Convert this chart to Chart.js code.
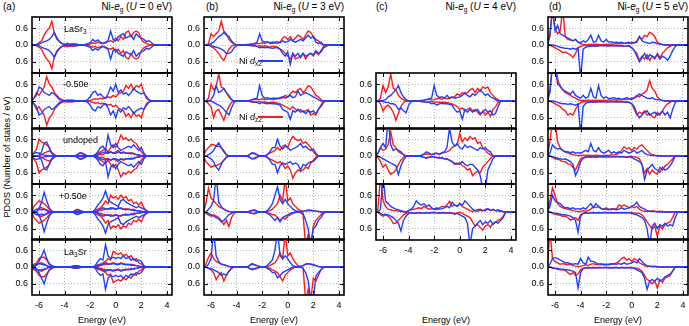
<!DOCTYPE html>
<html>
<head>
<meta charset="utf-8">
<script src="https://cdn.jsdelivr.net/npm/chart.js@4.4.0/dist/chart.umd.min.js"></script>
<style>
  body { margin: 0; width: 689px; height: 326px; position: relative; overflow: hidden; background: #fff;
         font-family: 'Liberation Sans', Arial, sans-serif; color: #000; }
  .t { position: absolute; white-space: nowrap; font-size: 9px; line-height: 12px; z-index: 5; }
  .t sub { font-size: 6.5px; vertical-align: -2px; line-height: 0; }
  .ttl { font-size: 10px; }
  .key { position: absolute; height: 1.5px; z-index: 5; }
  .ylab { position: absolute; left: 7px; top: 157px; transform: translate(-50%, -50%) rotate(-90deg); font-size: 9px; white-space: nowrap; }
</style>
</head>
<body>
<div class="t ttl" style="left:3px;top:1px">(a)</div>
<div class="t ttl" style="left:206px;top:1px">(b)</div>
<div class="t ttl" style="left:376px;top:1px">(c)</div>
<div class="t ttl" style="left:549px;top:1px">(d)</div>
<div class="t ttl" style="right:517px;top:1px">Ni-<i>e</i><sub>g</sub> (<i>U</i> = 0 eV)</div>
<div class="t ttl" style="right:345px;top:1px">Ni-<i>e</i><sub>g</sub> (<i>U</i> = 3 eV)</div>
<div class="t ttl" style="right:173px;top:1px">Ni-<i>e</i><sub>g</sub> (<i>U</i> = 4 eV)</div>
<div class="t ttl" style="right:1px;top:1px">Ni-<i>e</i><sub>g</sub> (<i>U</i> = 5 eV)</div>

<div class="t" style="left:64px;top:23px">LaSr<sub>3</sub></div>
<div class="t" style="left:63px;top:78px">-0.50e</div>
<div class="t" style="left:63px;top:134px">undoped</div>
<div class="t" style="left:59px;top:190px">+0.50e</div>
<div class="t" style="left:64px;top:246px">La<sub>3</sub>Sr</div>

<div class="t" style="left:239px;top:55px">Ni <i>d</i><sub>x2</sub></div>
<div class="key" style="left:258px;top:60px;width:25px;background:#1f3fff"></div>
<div class="t" style="left:239px;top:111px">Ni <i>d</i><sub>z2</sub></div>
<div class="key" style="left:258px;top:116px;width:25px;background:#ff1a1a"></div>

<div class="ylab">PDOS (Number of states / eV)</div>
<div class="t" style="left:102px;top:314px;transform:translateX(-50%)">Energy (eV)</div>
<div class="t" style="left:274px;top:314px;transform:translateX(-50%)">Energy (eV)</div>
<div class="t" style="left:446px;top:314px;transform:translateX(-50%)">Energy (eV)</div>
<div class="t" style="left:618px;top:314px;transform:translateX(-50%)">Energy (eV)</div>

<script>
// energy grid (eV)
const energy = [-6.6,-6.4,-6.2, -6,-5.8,-5.6,-5.4,-5.2, -5,-4.8,-4.6,-4.4,-4.2, -4,-3.8,-3.6,-3.4,-3.2, -3,-2.8,-2.6,-2.4,-2.2, -2,-1.8,-1.6,-1.4,-1.2, -1,-0.8,-0.6,-0.4,-0.2, 0,0.2,0.4,0.6,0.8, 1,1.2,1.4,1.6,1.8, 2,2.2,2.4,2.6,2.8, 3,3.2,3.4,3.6,3.8, 4,4.2,4.4,4.6];
const xTicks = [-6, -4, -2, 0, 2, 4];
const yTicks = [-0.6, 0, 0.6];

// (a) U = 0 eV, spin degenerate (drawn mirrored)
const a1Red  = [0,0,.02, .08,.15,.35,.5,.6, .85,.4,.2,.12,.05, .03,.06,.04,.05,.02, .02,0,0,0,.01, .04,.08,.05,.1,.06, .05,.08,.12,.15,.1, .25,.15,.3,.2,.45, .5,.3,.45,.5,.45, .2,.1,.05,.02,0, 0,0,0,0,0, 0,0,0,0];
const a1Blue = [0,0,0, .03,.08,.12,.15,.2, .3,.45,.25,.12,.05, .02,0,0,.02,.04, .02,0,0,.02,.05, .08,.2,.12,.18,.1, .05,.1,.15,.5,.2, .15,.3,.35,.4,.25, .3,.35,.2,.4,.3, .25,.2,.12,.15,.08, 0,0,0,0,0, 0,0,0,0];
const a2Red  = [0,.1,.3, .2,.35,.5,.87,.6, .5,.3,.2,.1,.05, .02,.04,.03,.02,0, 0,0,0,0,0, .02,.05,.08,.06,.1, .08,.1,.15,.12,.2, .15,.25,.3,.35,.55, .45,.6,.4,.55,.5, .6,.3,.1,.03,0, 0,0,0,0,0, 0,0,0,0];
const a2Blue = [0,.1,.2, .5,.45,.3,.25,.2, .3,.25,.15,.05,.02, 0,0,.02,.03,.02, 0,0,0,0,.05, .15,.3,.35,.2,.25, .15,.1,.25,.5,.35, .6,.3,.4,.25,.3, .2,.3,.45,.35,.3, .25,.3,.15,.05,0, 0,0,0,0,0, 0,0,0,0];
const a3Red  = [0,.1,.25, .6,.5,.45,.4,.3, .1,.02,0,0,0, 0,0,0,0,0, .05,.1,.08,.03,0, 0,0,.05,.1,.15, .2,.25,.15,.3,.4, .3,.5,.75,.6,.65, .55,.6,.5,.45,.3, .15,.05,0,0,0, 0,0,0,0,0, 0,0,0,0];
const a3Blue = [0,0,0, .02,.15,.45,.5,.3, .1,.02,0,0,0, 0,0,0,0,0, .05,.12,.1,.05,0, 0,0,.05,.15,.3, .35,.2,.75,.4,.3, .45,.3,.2,.25,.3, .35,.3,.4,.3,.2, .3,.1,0,0,0, 0,0,0,0,0, 0,0,0,0];
const a3RedIn  = [0,0,0, 0,.05,.1,.15,.18, .12,.05,0,0,0, 0,0,0,0,0, 0,0,0,0,0, 0,0,0,.03,.05, .05,.1,.1,.15,.1, .15,.2,.1,.15,.1, .1,.12,.08,.05,.02, 0,0,0,0,0, 0,0,0,0,0, 0,0,0,0];
const a3BlueIn = [0,.1,.12, .1,.06,.03,.02,0, 0,0,0,0,0, 0,0,0,0,0, 0,0,0,0,0, 0,0,0,.05,.1, .12,.15,.1,.15,.1, .1,.15,.1,.12,.1, .1,.08,.1,.05,.05, .02,0,0,0,0, 0,0,0,0,0, 0,0,0,0];
const a4Red  = [0,.2,.3, .4,.35,.3,.2,.1, .03,0,0,0,0, 0,0,0,0,.03, .08,.05,.02,0,0, 0,0,.05,.1,.15, .25,.4,.3,.6,.5, .55,.45,.6,.5,.55, .4,.45,.3,.35,.25, .35,.15,.05,0,0, 0,0,0,0,0, 0,0,0,0];
const a4Blue = [0,0,.02, .1,.35,.7,.4,.15, .03,0,0,0,0, 0,0,0,0,.05, .1,.06,.02,0,0, 0,0,.1,.25,.35, .5,.75,.45,.35,.3, .25,.2,.4,.45,.35, .3,.25,.2,.15,.2, .15,.1,.05,0,0, 0,0,0,0,0, 0,0,0,0];
const a4RedIn  = [0,0,0, .15,.15,.12,.08,.03, 0,0,0,0,0, 0,0,0,0,0, 0,0,0,0,0, 0,0,0,.03,.05, .08,.1,.12,.1,.15, .1,.12,.15,.1,.12, .1,.08,.1,.05,.05, .03,0,0,0,0, 0,0,0,0,0, 0,0,0,0];
const a4BlueIn = [0,.05,.1, .1,.08,.1,.05,0, 0,0,0,0,0, 0,0,0,0,0, 0,0,0,0,0, 0,0,0,.05,.1, .15,.12,.1,.15,.12, .1,.15,.12,.1,.08, .1,.08,.05,.05,.03, 0,0,0,0,0, 0,0,0,0,0, 0,0,0,0];
const a5Red  = [0,.1,.15, .3,.35,.35,.25,.12, .05,.02,0,0,0, 0,0,0,.03,.05, .05,.02,0,0,0, 0,0,.02,.08,.1, .15,.2,.3,.25,.55, .5,.45,.5,.4,.45, .35,.4,.25,.3,.15, .1,.02,0,0,0, 0,0,0,0,0, 0,0,0,0];
const a5Blue = [0,0,.05, .2,.4,.6,.3,.1, .03,0,0,0,0, 0,0,0,.02,.05, .04,.02,0,0,0, 0,0,.05,.2,.3, .25,.8,.4,.3,.35, .3,.35,.3,.4,.3, .35,.25,.3,.2,.25, .2,.05,0,0,0, 0,0,0,0,0, 0,0,0,0];
const a5RedIn  = [0,.05,.08, .12,.15,.1,.05,.02, 0,0,0,0,0, 0,0,0,0,0, 0,0,0,0,0, 0,0,0,.02,.05, .08,.1,.1,.12,.15, .12,.1,.15,.12,.1, .08,.1,.05,.05,.03, 0,0,0,0,0, 0,0,0,0,0, 0,0,0,0];
const a5BlueIn = [0,.05,.1, .12,.1,.08,.05,0, 0,0,0,0,0, 0,0,0,0,0, 0,0,0,0,0, 0,0,0,.05,.08, .1,.15,.12,.1,.12, .1,.08,.12,.1,.08, .1,.05,.08,.05,.03, 0,0,0,0,0, 0,0,0,0,0, 0,0,0,0];

// (b) U = 3 eV
const b1RedUp  = [0,0,.05, .4,.3,.4,.5,.85, .5,.4,.2,.1,.03, 0,0,0,0,.02, .02,.05,.03,.05,.05, .08,.05,.1,.06,.05, .08,.05,.1,.25,.3, .2,.3,.15,.25,.35, .3,.2,.35,.5,.45, .3,.2,.15,.05,0, 0,0,0,0,0, 0,0,0,0];
const b1RedDn  = [0,0,0, -.05,-.1,-.2,-.3,-.45, -.55,-.35,-.15,-.05,0, 0,0,0,0,0, -.02,-.03,-.02,-.05,-.03, -.05,-.03,-.05,-.08,-.05, -.05,-.1,-.15,-.2,-.3, -.4,-.5,-.3,-.5,-.45, -.4,-.3,-.5,-.35,-.3, -.4,-.25,-.35,-.2,-.05, 0,0,0,0,0, 0,0,0,0];
const b1BlueUp = [0,0,0, .05,.1,.2,.3,.35, .45,.35,.3,.15,.05, 0,0,0,0,0, .02,.03,.05,.1,.4, .15,.1,.12,.08,.1, .1,.12,.08,.15,.1, .12,.2,.15,.1,.15, .2,.15,.25,.35,.25, .3,.1,.05,.1,0, 0,0,0,0,0, 0,0,0,0];
const b1BlueDn = [0,0,0, -.02,-.05,-.08,-.1,-.15, -.2,-.3,-.3,-.25,-.1, -.02,0,0,0,0, 0,-.02,-.03,-.05,-.1, -.08,-.1,-.08,-.1,-.12, -.1,-.08,-.15,-.3,-.4, -.25,-.69,-.3,-.4,-.3, -.45,-.3,-.4,-.35,-.3, -.35,-.2,-.3,-.25,-.1, -.05,0,0,0,0, 0,0,0,0];
const b2RedUp  = [0,0,.1, .6,.4,.5,.97,.5, .45,.3,.15,.05,0, 0,0,0,0,0, .02,.04,.05,.06,.05, .08,.05,.06,.08,.05, .06,.1,.08,.12,.2, .15,.25,.35,.3,.4, .45,.3,.4,.55,.5, .35,.2,.15,.05,0, 0,0,0,0,0, 0,0,0,0];
const b2RedDn  = [0,0,-.1, -.2,-.6,-.35,-.3,-.5, -.69,-.4,-.2,-.05,0, 0,0,0,0,0, -.02,-.04,-.05,-.03,-.02, -.05,-.03,-.06,-.05,-.04, -.05,-.08,-.1,-.15,-.2, -.25,-.3,-.2,-.3,-.35, -.3,-.4,-.35,-.3,-.5, -.45,-.5,-.3,-.15,0, 0,0,0,0,0, 0,0,0,0];
const b2BlueUp = [0,0,0, .05,.2,.55,.3,.35, .45,.3,.2,.05,0, 0,0,0,0,0, .02,.05,.08,.1,.55, .2,.1,.12,.08,.1, .1,.08,.12,.15,.1, .15,.2,.12,.15,.35, .2,.25,.3,.25,.2, .15,.1,.05,0,0, 0,0,0,0,0, 0,0,0,0];
const b2BlueDn = [0,0,0, 0,-.05,-.1,-.15,-.2, -.3,-.4,-.5,-.25,-.05, 0,0,0,0,0, 0,-.02,-.03,-.05,-.1, -.05,-.08,-.1,-.08,-.1, -.1,-.12,-.15,-.3,-.35, -.4,-.65,-.35,-.4,-.3, -.4,-.35,-.45,-.35,-.4, -.35,-.45,-.3,-.2,-.05, 0,0,0,0,0, 0,0,0,0];
const b3RedUp  = [0,.2,.3, .4,.4,.35,.35,.3, .2,.05,0,0,0, 0,0,0,0,0, .05,.1,.08,.04,0, 0,0,.05,.1,.15, .2,.3,.2,.35,.4, .3,.55,.7,.6,.55, .6,.45,.5,.4,.3, .15,.05,0,0,0, 0,0,0,0,0, 0,0,0,0];
const b3RedDn  = [0,-.2,-.3, -.4,-.35,-.35,-.3,-.25, -.15,-.05,0,0,0, 0,0,0,0,0, -.05,-.1,-.07,-.03,0, 0,0,-.05,-.1,-.15, -.2,-.25,-.2,-.3,-.45, -.35,-.5,-.8,-.6,-.5, -.55,-.5,-.4,-.45,-.25, -.15,-.05,0,0,0, 0,0,0,0,0, 0,0,0,0];
const b3BlueUp = [0,0,.05, .1,.2,.35,.47,.3, .15,.05,0,0,0, 0,0,0,0,0, .04,.12,.1,.05,0, 0,0,.05,.15,.3, .3,.6,.35,.25,.35, .3,.2,.25,.3,.35, .45,.3,.35,.25,.2, .25,.1,0,0,0, 0,0,0,0,0, 0,0,0,0];
const b3BlueDn = [0,0,-.05, -.1,-.2,-.4,-.5,-.3, -.15,-.05,0,0,0, 0,0,0,0,0, -.04,-.1,-.1,-.05,0, 0,0,-.05,-.15,-.3, -.3,-.6,-.35,-.25,-.3, -.25,-.2,-.3,-.25,-.3, -.5,-.3,-.35,-.25,-.2, -.2,-.1,0,0,0, 0,0,0,0,0, 0,0,0,0];
const b4RedUp  = [0,.3,.85, .5,.4,.3,.2,.15, .1,.05,.02,0,0, 0,0,0,0,0, .03,.06,.04,.02,0, 0,0,.02,.05,.1, .2,.3,.6,.4,1.2, .4,.5,.3,.2,.1, .05,.02,.05,.08,.05, .04,.03,.02,0,0, 0,0,0,0,0, 0,0,0,0];
const b4RedDn  = [0,-.05,-.1, -.15,-.1,-.15,-.2,-.3, -.45,-.3,-.52,-.2,-.05, 0,0,0,0,0, -.02,-.05,-.04,-.02,0, 0,0,-.02,-.05,-.1, -.1,-.2,-.3,-.2,-.25, -.15,-.1,-.05,-.02,0, -.02,-.1,-1.2,-.8,-1.2, -.5,-.3,-.2,-.1,0, 0,0,0,0,0, 0,0,0,0];
const b4BlueUp = [0,0,.1, .2,.4,1.3,.35,.2, .1,.05,.02,0,0, 0,0,0,0,0, .02,.05,.08,.03,0, 0,0,.05,.15,.3, .6,.9,.45,.3,.45, .3,.2,.1,.05,.02, .02,.03,.05,.04,.06, .05,.03,.02,0,0, 0,0,0,0,0, 0,0,0,0];
const b4BlueDn = [0,0,-.05, -.1,-.15,-.2,-.25,-.35, -.3,-.2,-.1,-.05,0, 0,0,0,0,0, -.02,-.05,-.06,-.02,0, 0,0,-.05,-.1,-.2, -.3,-.2,-.35,-.2,-.15, -.1,-.05,-.02,0,0, 0,-.05,-.3,-.6,-1.2, -.6,-.5,-.3,-.2,-.05, 0,0,0,0,0, 0,0,0,0];
const b5RedUp  = [0,.1,.35, .5,.3,.2,.15,.1, .08,.05,.02,0,0, 0,0,0,0,0, .05,.1,.08,.05,.02, 0,0,.02,.05,.1, .15,.3,.5,.3,1.2, .4,.5,.3,.15,.05, .02,.05,.1,.12,.1, .08,.05,.02,0,0, 0,0,0,0,0, 0,0,0,0];
const b5RedDn  = [0,0,-.05, -.1,-.2,-.45,-.3,-.2, -.5,-.3,-.15,-.05,0, 0,0,0,0,0, -.05,-.1,-.08,-.05,-.02, 0,0,-.02,-.05,-.1, -.15,-.2,-.35,-.5,-.3, -.2,-.1,-.05,0,0, 0,-.05,-1.2,-.8,-1.2, -.4,-.5,-.3,-.1,0, 0,0,0,0,0, 0,0,0,0];
const b5BlueUp = [0,0,.1, .3,1.3,.4,.2,.1, .08,.05,.02,0,0, 0,0,0,0,0, .05,.12,.08,.05,.02, 0,0,.05,.15,.25, .6,1.3,.4,.3,.4, .3,.15,.05,.02,0, .02,.05,.1,.12,.1, .08,.05,.02,0,0, 0,0,0,0,0, 0,0,0,0];
const b5BlueDn = [0,0,-.05, -.05,-.1,-.15,-.2,-.3, -.25,-.3,-.15,-.05,0, 0,0,0,0,0, -.05,-.08,-.06,-.03,0, 0,0,-.05,-.1,-.2, -.2,-.39,-.3,-.2,-.15, -.1,-.05,0,0,0, 0,-.05,-.2,-.5,-1.2, -1.2,-.33,-.2,-.1,-.02, 0,0,0,0,0, 0,0,0,0];

// (c) U = 4 eV (three cases)
const c1RedUp  = [0,0,.1, .55,.3,.5,.97,.45, .4,.2,.1,.05,0, 0,0,0,0,0, .02,.03,.05,.05,.04, .05,.08,.1,.06,.1, .08,.1,.12,.15,.25, .2,.3,.25,.3,.4, .45,.3,.45,.35,.5, .45,.5,.3,.2,.1, .05,0,0,0,0, 0,0,0,0];
const c1RedDn  = [0,0,-.1, -.36,-.2,-.15,-.25,-.4, -.69,-.45,-.2,-.05,0, 0,0,0,0,0, -.02,-.03,-.04,-.03,-.02, -.04,-.03,-.05,-.04,-.05, -.05,-.08,-.1,-.15,-.2, -.3,-.25,-.35,-.3,-.25, -.35,-.3,-.4,-.5,-.35, -.5,-.4,-.55,-.3,-.2, -.05,0,0,0,0, 0,0,0,0];
const c1BlueUp = [0,0,0, .02,.05,.15,.2,.3, .4,.55,.3,.15,.05, 0,0,0,0,0, .02,.03,.05,.08,.1, .55,.2,.12,.15,.1, .2,.1,.15,.1,.12, .15,.2,.3,.2,.15, .25,.2,.3,.4,.3, .2,.25,.15,.1,.05, 0,0,0,0,0, 0,0,0,0];
const c1BlueDn = [0,0,0, -.02,-.05,-.05,-.1,-.1, -.15,-.3,-.25,-.35,-.42, -.15,-.02,0,0,0, -.02,-.03,-.05,-.05,-.1, -.08,-.15,-.1,-.08,-.1, -.1,-.12,-.15,-.3,-.4, -.35,-.65,-.3,-.4,-.3, -.4,-.35,-.3,-.45,-.4, -.3,-.4,-.35,-.5,-.45, -.2,0,0,0,0, 0,0,0,0];
const c2RedUp  = [0,.1,.3, .2,.25,.4,.87,.4, .3,.15,.1,.05,0, 0,0,0,0,0, .02,.05,.08,.06,.05, .08,.1,.06,.1,.12, .15,.2,.3,.35,.4, .81,.5,.65,.55,.7, .6,.65,.45,.5,.3, .2,.1,.05,0,0, 0,0,0,0,0, 0,0,0,0];
const c2RedDn  = [0,-.05,-.2, -.4,-.3,-.5,-.65,-.6, -.5,-.3,-.15,-.05,0, 0,0,0,0,0, -.02,-.05,-.06,-.04,-.02, -.04,-.06,-.05,-.08,-.1, -.1,-.15,-.2,-.25,-.3, -.25,-.35,-.4,-.5,-.45, -.7,-.6,-.55,-.6,-.4, -.3,-.2,-.1,0,0, 0,0,0,0,0, 0,0,0,0];
const c2BlueUp = [0,.1,.3, .45,.3,1.3,.4,.2, .25,.2,.15,.05,0, 0,0,0,0,0, .03,.08,.15,.1,.05, .08,.1,.05,.12,.15, .3,1.0,.5,.35,.45, .3,.25,.4,.3,.35, .3,.25,.2,.3,.25, .3,.2,.15,0,0, 0,0,0,0,0, 0,0,0,0];
const c2BlueDn = [0,0,-.05, -.1,-.15,-.2,-.25,-.3, -.35,-.66,-.35,-.15,-.02, 0,0,0,0,0, -.02,-.05,-.08,-.05,-.02, -.03,-.05,-.08,-.05,-.1, -.12,-.15,-.2,-.3,-.25, -.3,-.2,-.3,-.35,-.3, -.3,-.4,-.5,-.7,-1.2, -1.2,-.5,-.3,-.1,0, 0,0,0,0,0, 0,0,0,0];
const c3RedUp  = [0,.1,1.3, .4,.2,.1,.08,.05, .05,.03,.02,0,0, .05,.08,.1,.12,.15, .12,.2,.15,.1,.12, .1,.08,.15,.2,.18, .25,.38,.2,.25,.2, .3,.2,.15,.1,.05, .02,.05,.03,.06,.04, .05,.1,.05,.08,.04, .03,.02,0,0,0, 0,0,0,0];
const c3RedDn  = [0,0,-.1, -.15,-.1,-.15,-.25,-.41, -.4,-.3,-.2,-.1,-.05, -.02,-.03,-.05,-.02,-.03, -.05,-.03,-.02,-.05,-.03, -.02,-.03,-.02,-.03,-.02, -.03,-.02,-.03,-.05,-.03, -.02,-.05,-.1,-.15,-.2, -.35,-.5,-.45,-.55,-.65, -.5,-.45,-.55,-.4,-.35, -.3,-.25,-.15,0,0, 0,0,0,0];
const c3BlueUp = [0,0,.1, 1.3,.38,.3,.2,.15, .1,.08,.05,.02,0, .05,.1,.2,.4,.3, .25,.3,.2,.25,.15, .1,.15,.1,.12,.15, .2,.15,.35,.25,.2, .3,.25,.4,.3,.2, .1,.05,.08,.1,.05, .08,.12,.06,.1,.05, .08,.05,.02,0,0, 0,0,0,0];
const c3BlueDn = [0,0,-.05, -.1,-.08,-.1,-.15,-.2, -.3,-.4,-.68,-.3,-.15, -.05,-.02,-.03,-.05,-.02, -.03,-.05,-.02,-.03,-.02, -.02,-.03,-.05,-.02,-.03, -.05,-.03,-.05,-.08,-.05, -.1,-.15,-.2,-.4,-1.2, -.6,-.5,-.4,-.3,-.45, -.35,-.4,-.3,-.45,-.35, -.4,-.3,-.2,0,0, 0,0,0,0];

// (d) U = 5 eV
const d1RedUp  = [0,.3,1.3, .6,.4,.5,1.3,.3, .2,.18,.15,.2,.1, .05,.02,0,.02,.03, .02,.03,.02,.01,.02, .03,.02,.04,.03,.05, .04,.06,.05,.08,.06, .1,.08,.15,.3,.2, .35,.3,.46,.4,.3, .1,.05,.02,0,0, 0,0,0,0,0, 0,0,0,0];
const d1RedDn  = [0,0,-.05, -.1,-.15,-.2,-.27,-.25, -.3,-.35,-.45,-.3,-.1, -.05,-.02,0,0,-.02, -.02,-.03,-.02,0,-.02, -.02,-.03,-.02,-.02,-.03, -.02,-.03,-.05,-.03,-.05, -.1,-.2,-.3,-.55,-.4, -.5,-.35,-.55,-.4,-.5, -.3,-.45,-.3,-.2,-.1, -.05,0,0,0,0, 0,0,0,0];
const d1BlueUp = [0,.4,1.3, .5,.7,.4,.35,.3, .25,.2,.15,.2,.1, .08,.15,.1,.2,.35, .1,.12,.35,.15,.1, .2,.1,.12,.08,.1, .08,.1,.06,.08,.1, .05,.08,.1,.3,.15, .1,.08,.05,.1,.08, .05,.03,.02,0,0, 0,0,0,0,0, 0,0,0,0];
const d1BlueDn = [0,0,0, -.02,-.05,-.08,-.1,-.12, -.12,-.15,-.12,-.15,-.1, -1.2,-.15,-.08,-.05,-.05, -.03,-.05,-.03,-.02,-.03, -.02,-.03,-.02,-.03,-.02, -.03,-.02,-.05,-.03,-.02, -.1,-.2,-.4,-.6,-.45, -.3,-.5,-.35,-.4,-.45, -.35,-.5,-.4,-.45,-.55, -.4,-.2,-.05,0,0, 0,0,0,0];
const d2RedUp  = [0,.4,1.3, 1.3,.8,.5,.4,.3, .25,.2,.15,.1,.05, .02,.03,.02,.04,.02, .03,.02,.03,.02,.03, .02,.04,.03,.05,.03, .05,.04,.06,.05,.08, .1,.12,.2,.15,.25, .3,.4,.73,.45,.35, .15,.05,.02,0,0, 0,0,0,0,0, 0,0,0,0];
const d2RedDn  = [0,0,-.05, -.1,-.15,-.2,-.3,-.35, -.5,-.45,-.5,-.3,-.15, -.05,-.02,-.03,-.02,-.02, -.03,-.02,-.02,-.03,-.02, -.02,-.03,-.02,-.02,-.03, -.03,-.02,-.04,-.03,-.05, -.1,-.3,-.5,-.4,-.45, -.35,-.5,-.45,-.55,-.6, -.4,-.5,-.35,-.2,-.1, -.05,0,0,0,0, 0,0,0,0];
const d2BlueUp = [0,.3,1.3, 1.3,.6,.55,.4,.35, .3,.25,.35,.2,.15, .1,.2,.1,.15,.45, .15,.1,.55,.2,.1, .15,.08,.1,.12,.08, .1,.06,.08,.12,.08, .05,.1,.15,.25,.2, .15,.1,.08,.12,.06, .05,.04,.02,0,0, 0,0,0,0,0, 0,0,0,0];
const d2BlueDn = [0,0,0, -.02,-.05,-.08,-.1,-.1, -.12,-.1,-.12,-.15,-.1, -1.2,-.2,-.08,-.05,-.05, -.03,-.05,-.03,-.02,-.03, -.02,-.03,-.02,-.03,-.02, -.03,-.02,-.05,-.03,-.05, -.1,-.2,-.45,-.6,-.5, -.4,-.35,-.5,-.45,-.4, -.5,-.45,-.35,-.5,-.4, -.6,-.3,-.05,0,0, 0,0,0,0];
const d3RedUp  = [0,.5,1.3, 1.3,.5,.3,.2,.15, .1,.08,.05,.03,.02, .02,.03,.02,.03,.02, .02,.03,.02,.01,.02, .03,.02,.05,.04,.06, .1,.2,.33,.25,.3, .2,.3,.25,.35,.4, .3,.2,.1,.05,.02, .02,.01,0,0,0, 0,0,0,0,0, 0,0,0,0];
const d3RedDn  = [0,0,-.05, -.1,-.12,-.15,-.2,-.2, -.28,-.3,-.4,-.5,-.3, -.1,-.05,-.03,-.02,-.02, -.02,-.03,-.02,-.02,-.03, -.02,-.02,-.03,-.02,-.02, -.02,-.03,-.02,-.03,-.02, -.02,-.03,-.05,-.1,-.3, -.6,-.45,-.65,-.5,-.6, -.65,-.4,-.5,-.35,-.3, -.2,-.1,0,0,0, 0,0,0,0];
const d3BlueUp = [0,.1,.4, .3,.25,.27,.2,.15, .15,.12,.15,.1,.12, .1,.15,.2,.15,.45, .2,.15,.3,.15,.1, .15,.2,.1,.15,.1, .15,.1,.2,.15,.1, .15,.2,.1,.15,.2, .1,.05,.03,.02,.02, 0,0,0,0,0, 0,0,0,0,0, 0,0,0,0];
const d3BlueDn = [0,0,-.02, -.05,-.08,-.1,-.12,-.1, -.15,-.2,-.3,-.7,-.5, -.2,-.08,-.05,-.03,-.05, -.03,-.05,-.03,-.02,-.03, -.02,-.03,-.02,-.03,-.02, -.03,-.02,-.03,-.05,-.03, -.05,-.1,-.15,-.2,-.3, -.84,-.5,-.4,-.3,-.45, -.5,-.58,-.4,-.5,-.45, -.35,-.2,0,0,0, 0,0,0,0];
const d4RedUp  = [0,.4,.86, .6,.3,.2,.15,.12, .1,.08,.05,.03,.02, .02,.05,.03,.05,.1, .2,.15,.2,.12,.1, .15,.1,.08,.12,.1, .25,.2,.25,.2,.15, .2,.15,.2,.1,.05, .02,.03,.02,.05,.03, .02,.03,.02,0,0, 0,0,0,0,0, 0,0,0,0];
const d4RedDn  = [0,0,-.05, -.08,-.1,-.12,-.15,-.15, -.2,-.29,-.25,-.2,-.3, -.1,-.05,-.03,-.05,-.03, -.02,-.03,-.02,-.03,-.02, -.03,-.02,-.03,-.02,-.03, -.02,-.03,-.02,-.03,-.02, -.02,-.03,-.05,-.05,-.1, -.2,-.35,-.48,-.6,-.5, -.87,-.5,-.6,-.45,-.4, -.35,-.2,0,0,0, 0,0,0,0];
const d4BlueUp = [0,.2,.6, .4,.34,.3,.2,.15, .15,.12,.15,.1,.12, .1,.15,.1,.2,.3, .15,.3,.2,.12,.1, .1,.08,.12,.1,.08, .1,.15,.1,.12,.15, .2,.25,.35,.2,.15, .1,.05,.03,.02,.02, 0,0,0,0,0, 0,0,0,0,0, 0,0,0,0];
const d4BlueDn = [0,0,-.02, -.05,-.05,-.08,-.1,-.1, -.12,-.15,-.2,-.3,-.72, -.15,-.05,-.03,-.05,-.03, -.02,-.03,-.02,-.03,-.02, -.02,-.03,-.02,-.03,-.02, -.03,-.02,-.03,-.02,-.03, -.05,-.08,-.1,-.15,-.2, -.3,-.6,-1.2,-.5,-.4, -.59,-.45,-.5,-.4,-.5, -.45,-.5,-.2,0,0, 0,0,0,0];
const d5RedUp  = [0,1.3,.3, .2,.15,.1,.12,.1, .08,.1,.05,.03,.02, .03,.05,.08,.05,.1, .12,.08,.1,.08,.1, .08,.1,.12,.1,.15, .2,.3,.35,.25,.3, .2,.3,.25,.15,.1, .05,.02,.03,.02,.02, .02,0,0,0,0, 0,0,0,0,0, 0,0,0,0];
const d5RedDn  = [0,0,-.05, -.05,-.08,-.1,-.1,-.12, -.2,-.27,-.2,-.3,-.25, -.1,-.05,-.03,-.02,-.03, -.02,-.03,-.02,-.02,-.03, -.02,-.02,-.03,-.02,-.02, -.03,-.02,-.02,-.03,-.02, -.02,-.03,-.05,-.08,-.15, -.3,-.45,-.5,-.6,-.5, -.75,-.45,-.55,-.4,-.35, -.3,-.15,0,0,0, 0,0,0,0];
const d5BlueUp = [0,.1,.3, .34,.3,.25,.2,.15, .15,.12,.1,.12,.1, .3,.15,.1,.35,.2, .2,.15,.1,.12,.08, .1,.08,.1,.12,.1, .12,.1,.15,.1,.12, .15,.2,.15,.3,.2, .1,.05,.03,.02,.02, 0,0,0,0,0, 0,0,0,0,0, 0,0,0,0];
const d5BlueDn = [0,0,-.02, -.05,-.05,-.08,-.08,-.1, -.1,-.12,-.15,-.2,-.75, -.2,-.05,-.03,-.02,-.03, -.02,-.03,-.02,-.03,-.02, -.02,-.03,-.02,-.03,-.02, -.03,-.02,-.03,-.02,-.03, -.03,-.05,-.1,-.15,-.2, -.4,-.8,-.5,-.45,-.5, -.4,-.5,-.45,-.35,-.3, -.25,-.15,0,0,0, 0,0,0,0];

const RED = '#ff1a1a';
const BLUE = '#1f3fff';
const GRID = '#b4b4b4';
const X_MIN = -6.55, X_MAX = 4.4;
const AXIS_W = 32, PLOT_W = 140, ROW_H = 56, XAXIS_H = 16;
const rowTops = [17, 73, 128, 184, 239];

// U = 0 is not spin polarised: spin down is the mirror of spin up
const mirror = a => a.map(v => -v);

const aRows = [
  {blue: [a1Blue, mirror(a1Blue)], red: [a1Red, mirror(a1Red)]},
  {blue: [a2Blue, mirror(a2Blue)], red: [a2Red, mirror(a2Red)]},
  {blue: [a3Blue, mirror(a3Blue), a3BlueIn, mirror(a3BlueIn)], red: [a3Red, mirror(a3Red), a3RedIn, mirror(a3RedIn)]},
  {blue: [a4Blue, mirror(a4Blue), a4BlueIn, mirror(a4BlueIn)], red: [a4Red, mirror(a4Red), a4RedIn, mirror(a4RedIn)]},
  {blue: [a5Blue, mirror(a5Blue), a5BlueIn, mirror(a5BlueIn)], red: [a5Red, mirror(a5Red), a5RedIn, mirror(a5RedIn)]},
];
const bRows = [
  {blue: [b1BlueUp, b1BlueDn], red: [b1RedUp, b1RedDn]},
  {blue: [b2BlueUp, b2BlueDn], red: [b2RedUp, b2RedDn]},
  {blue: [b3BlueUp, b3BlueDn], red: [b3RedUp, b3RedDn]},
  {blue: [b4BlueUp, b4BlueDn], red: [b4RedUp, b4RedDn]},
  {blue: [b5BlueUp, b5BlueDn], red: [b5RedUp, b5RedDn]},
];
const cRows = [
  {blue: [c1BlueUp, c1BlueDn], red: [c1RedUp, c1RedDn]},
  {blue: [c2BlueUp, c2BlueDn], red: [c2RedUp, c2RedDn]},
  {blue: [c3BlueUp, c3BlueDn], red: [c3RedUp, c3RedDn]},
];
const dRows = [
  {blue: [d1BlueUp, d1BlueDn], red: [d1RedUp, d1RedDn]},
  {blue: [d2BlueUp, d2BlueDn], red: [d2RedUp, d2RedDn]},
  {blue: [d3BlueUp, d3BlueDn], red: [d3RedUp, d3RedDn]},
  {blue: [d4BlueUp, d4BlueDn], red: [d4RedUp, d4RedDn]},
  {blue: [d5BlueUp, d5BlueDn], red: [d5RedUp, d5RedDn]},
];

const columns = [
  {left: 0, rows: aRows, firstRow: 0},
  {left: 172, rows: bRows, firstRow: 0},
  {left: 344, rows: cRows, firstRow: 1},
  {left: 516, rows: dRows, firstRow: 0},
];

Chart.defaults.font.family = "'Liberation Sans', Arial, sans-serif";
Chart.defaults.font.size = 9;
Chart.defaults.color = '#000';

// black frame with inward tick marks, drawn over the curves
const framePlugin = {
  id: 'frame',
  afterDatasetsDraw(chart) {
    const {ctx, chartArea: a, scales} = chart;
    ctx.save();
    ctx.strokeStyle = '#000';
    ctx.lineWidth = 1;
    ctx.beginPath();
    xTicks.forEach(v => {
      const px = Math.round(scales.x.getPixelForValue(v)) + 0.5;
      ctx.moveTo(px, a.top); ctx.lineTo(px, a.top + 4);
      ctx.moveTo(px, a.bottom); ctx.lineTo(px, a.bottom - 4);
    });
    yTicks.forEach(v => {
      const py = Math.round(scales.y.getPixelForValue(v)) + 0.5;
      ctx.moveTo(a.left, py); ctx.lineTo(a.left + 4, py);
      ctx.moveTo(a.right, py); ctx.lineTo(a.right - 4, py);
    });
    ctx.stroke();
    ctx.lineWidth = 1.6;
    ctx.strokeRect(a.left, a.top, a.right - a.left, a.bottom - a.top);
    ctx.restore();
  }
};

// stop Chart.js from reserving room for half tick labels at the ends
function noPadding(s) {
  s.paddingTop = 0; s.paddingBottom = 0; s.paddingLeft = 0; s.paddingRight = 0;
}

function lineSet(vals, color) {
  if (vals.length !== energy.length) console.warn('length mismatch', vals.length);
  return {
    data: vals.map((v, i) => ({x: energy[i], y: v})),
    borderColor: color,
    borderWidth: 1.4,
    pointRadius: 0,
    fill: false,
    tension: 0,
  };
}

function makePanel(left, top, row, showX) {
  const canvas = document.createElement('canvas');
  const w = AXIS_W + PLOT_W + 2;
  const h = ROW_H + 1 + (showX ? XAXIS_H : 1);
  canvas.width = w;
  canvas.height = h;
  canvas.style.cssText = `position:absolute;left:${left}px;top:${top - 1}px;width:${w}px;height:${h}px`;
  document.body.appendChild(canvas);

  const datasets = [
    ...row.blue.map(v => lineSet(v, BLUE)),
    ...row.red.map(v => lineSet(v, RED)),
  ];

  new Chart(canvas, {
    type: 'line',
    data: {datasets},
    plugins: [framePlugin],
    options: {
      responsive: false,
      animation: false,
      devicePixelRatio: 1,
      layout: {padding: {top: 1, right: 2, bottom: showX ? 0 : 1, left: 0}},
      plugins: {legend: {display: false}, tooltip: {enabled: false}},
      scales: {
        x: {
          type: 'linear',
          min: X_MIN,
          max: X_MAX,
          afterBuildTicks: s => { s.ticks = xTicks.map(value => ({value})); },
          afterFit: s => { s.height = showX ? XAXIS_H : 0; noPadding(s); },
          grid: {color: GRID, lineWidth: 1, drawTicks: false},
          border: {display: false, dash: [1, 2]},
          ticks: {display: showX, padding: 5, maxRotation: 0, callback: v => String(v)},
        },
        y: {
          min: -1,
          max: 1,
          afterBuildTicks: s => { s.ticks = yTicks.map(value => ({value})); },
          afterFit: s => { s.width = AXIS_W; noPadding(s); },
          grid: {color: GRID, lineWidth: 1, drawTicks: false},
          border: {display: false, dash: [1, 2]},
          ticks: {padding: 4, callback: v => Math.abs(v).toFixed(1)},
        },
      },
    },
  });
}

columns.forEach(col => {
  col.rows.forEach((row, k) => {
    const r = col.firstRow + k;
    makePanel(col.left, rowTops[r], row, k === col.rows.length - 1);
  });
});
</script>
</body>
</html>
